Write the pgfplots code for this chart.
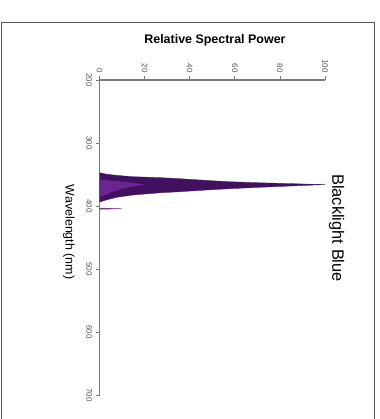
\documentclass[border=0pt]{standalone}
\usepackage{fontspec}
\setmainfont{Liberation Sans}
\usepackage{pgfplots}
\pgfplotsset{compat=1.18}
\definecolor{dpurple}{HTML}{421060}
\definecolor{lpurple}{HTML}{6A2590}
\definecolor{axgray}{HTML}{7A7A7A}
\definecolor{tickgray}{HTML}{555555}
\begin{document}
\begin{tikzpicture}[x=1bp,y=1bp]
\path[use as bounding box] (0,0) rectangle (380,419);
\draw[color=black!65, line width=0.9bp] (1,-5) -- (1,397) -- (374,397) -- (374,-5);
\begin{axis}[
  at={(99.5bp,339bp)}, anchor=north west,
  scale only axis, width=225.5bp, height=315bp,
  xmin=0, xmax=100, ymin=200, ymax=700,
  y dir=reverse,
  axis x line=top, axis y line=left,
  axis line style={-, axgray, line width=1.3bp},
  xtick={0,20,40,60,80,100},
  ytick={200,300,400,500,600,700},
  tick align=outside,
  major tick length=4bp,
  tick style={axgray, line width=0.8bp},
  /pgf/number format/assume math mode=true,
  ticklabel style={font=\fontsize{8}{9}\selectfont, text=tickgray},
  xticklabel style={rotate=-90, anchor=east},
  yticklabel style={rotate=-90, anchor=north},
  clip=false,
  xlabel={Relative Spectral Power},
  xlabel style={at={(axis description cs:0.512,1.127)}, anchor=center, font=\bfseries\fontsize{12.5}{14}\selectfont},
]
\addplot[fill=dpurple, draw=dpurple, line width=0.3bp] coordinates {
  (0,347) (3,349.5) (8,351.5) (15,353.5) (27,355) (35,356.5) (48,359.5)
  (58,361.5) (70,363) (80,364) (90,365) (100,366) (90,367.5) (80,369)
  (70,370.5) (58,372.5) (48,374.5) (35,377.5) (27,379) (15,382.5)
  (8,386) (4,389.5) (1.5,392) (0,394)
};
\addplot[fill=lpurple, draw=none] coordinates {
  (0,358) (6,360) (14,363) (20,366) (12,371) (6,377) (3,382) (0,386)
};
\addplot[fill=dpurple!80, draw=dpurple!80, line width=0.4bp] coordinates {
  (0,403.3) (10,404.4) (0,405.2)
};
\node[rotate=-90, anchor=center, font=\fontsize{12.5}{14}\selectfont] at (axis description cs:-0.136,0.517) {Wavelength (nm)};
\node[rotate=-90, anchor=center, font=\fontsize{16.5}{18}\selectfont] at (axis description cs:1.051,0.53) {Blacklight Blue};
\end{axis}
\end{tikzpicture}
\end{document}
